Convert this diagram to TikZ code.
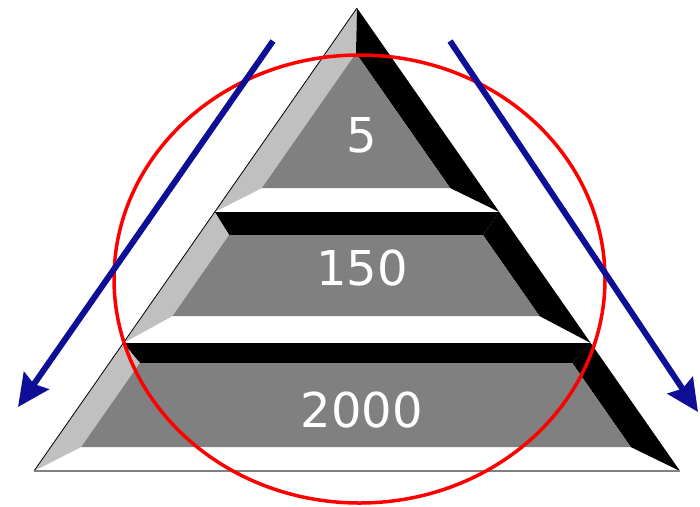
\documentclass[tikz,border=0pt]{standalone}
\usepackage{fontspec}
\setmainfont{DejaVu Sans}
\usetikzlibrary{arrows.meta}
\definecolor{facegray}{HTML}{808080}
\definecolor{litegray}{HTML}{C0C0C0}
\definecolor{arrowblue}{HTML}{0E0E96}
\tikzset{
  face/.style={fill=facegray},
  lbevel/.style={fill=litegray},
  rbevel/.style={fill=black},
  tbevel/.style={fill=black},
  bbevel/.style={fill=white},
  tiertext/.style={text=white, font=\fontsize{48}{52}\selectfont},
  flowarrow/.style={draw=arrowblue, line width=6pt, -{Stealth[length=32pt,width=30pt,inset=4pt]}},
  ring/.style={draw=red, line width=3.5pt}
}
\begin{document}
\begin{tikzpicture}[x=1pt,y=-1pt]
\useasboundingbox (0,0) rectangle (700,506);
% ---------- tier 1 (top) ----------
\fill[bbevel] (357,8) -- (214.7,212) -- (499.3,212) -- cycle;
\fill[lbevel] (357,8) -- (214.7,212) -- (261.9,188) -- (356,53.2) -- cycle;
\fill[rbevel] (357,8) -- (356,53.2) -- (450.1,188) -- (499.3,212) -- cycle;
\fill[face] (356,53.2) -- (261.9,188) -- (450.1,188) -- cycle;
% ---------- tier 2 ----------
\fill[bbevel] (214.7,212) -- (499.3,212) -- (590.7,343) -- (123.3,343) -- cycle;
\fill[tbevel] (214.7,212) -- (499.3,212) -- (482.9,235) -- (229.1,235) -- cycle;
\fill[lbevel] (214.7,212) -- (229.1,235) -- (172.6,316) -- (123.3,343) -- cycle;
\fill[rbevel] (499.3,212) -- (590.7,343) -- (539.4,316) -- (482.9,235) -- cycle;
\fill[face] (229.1,235) -- (482.9,235) -- (539.4,316) -- (172.6,316) -- cycle;
% ---------- tier 3 (base) ----------
\fill[bbevel] (123.3,343) -- (590.7,343) -- (680,471) -- (34,471) -- cycle;
\fill[tbevel] (123.3,343) -- (590.7,343) -- (572.2,363) -- (139.8,363) -- cycle;
\fill[lbevel] (123.3,343) -- (139.8,363) -- (81.2,447) -- (34,471) -- cycle;
\fill[rbevel] (590.7,343) -- (680,471) -- (630.7,447) -- (572.2,363) -- cycle;
\fill[face] (139.8,363) -- (572.2,363) -- (630.7,447) -- (81.2,447) -- cycle;
% outlines
\draw[black, line width=0.8pt] (357,8) -- (34,471);
\draw[facegray, line width=2pt] (34,471) -- (680,471);
% ---------- labels ----------
\node[tiertext] (t1) at (362,135) {5};
\node[tiertext] (t2) at (362,268) {150};
\node[tiertext] (t3) at (362,410) {2000};
% ---------- ellipse ----------
\draw[ring] (359.5,279) ellipse [x radius=245.5, y radius=224];
% ---------- arrows ----------
\coordinate (la) at (273,41);
\coordinate (lb) at (18,407);
\coordinate (ra) at (450,41);
\coordinate (rb) at (698,412);
\draw[flowarrow] (la) -- (lb);
\draw[flowarrow] (ra) -- (rb);
\end{tikzpicture}
\end{document}
